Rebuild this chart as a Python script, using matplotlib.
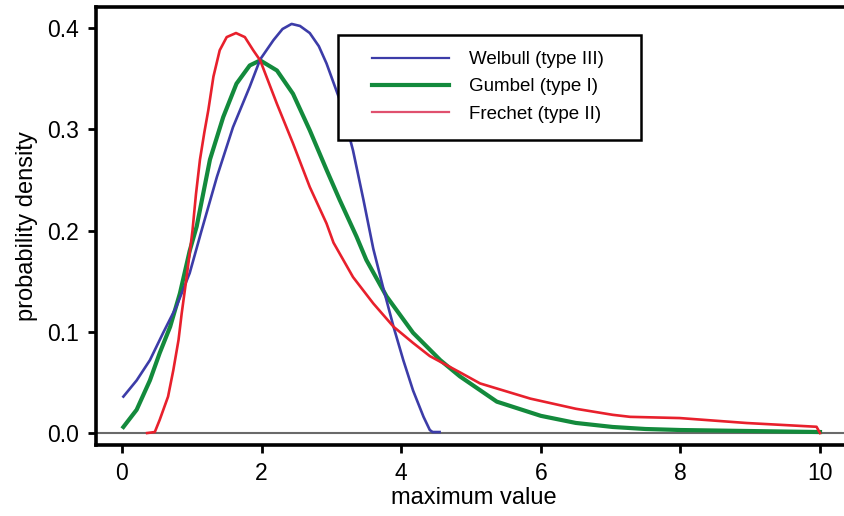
import matplotlib
matplotlib.use("Agg")
import matplotlib.pyplot as plt
from matplotlib.patches import Rectangle

plt.rcParams['font.family'] = ['Liberation Sans', 'DejaVu Sans']

# Weibull (type III)
weibull_x = [0.02, 0.21, 0.40, 0.59, 0.78, 0.97, 1.14, 1.36, 1.59, 1.83, 1.98, 2.17, 2.30,
             2.43, 2.55, 2.69, 2.82, 2.93, 3.12, 3.31, 3.46, 3.60, 3.74, 3.89, 4.03, 4.17,
             4.32, 4.41, 4.45, 4.55]
weibull_y = [0.036, 0.052, 0.072, 0.099, 0.125, 0.158, 0.200, 0.253, 0.302, 0.342, 0.369, 0.388,
             0.399, 0.404, 0.402, 0.395, 0.382, 0.365, 0.329, 0.279, 0.230, 0.182, 0.144, 0.105,
             0.072, 0.042, 0.016, 0.003, 0.001, 0.001]

# Gumbel (type I)
gumbel_x = [0.02, 0.21, 0.40, 0.54, 0.69, 0.83, 0.97, 1.07, 1.26, 1.45, 1.64, 1.83, 1.98,
            2.22, 2.45, 2.69, 2.93, 3.12, 3.36, 3.50, 3.79, 4.17, 4.56, 4.84, 5.37,
            6.00, 6.50, 7.03, 7.50, 8.00, 9.00, 10.00]
gumbel_y = [0.006, 0.023, 0.052, 0.079, 0.105, 0.138, 0.180, 0.204, 0.270, 0.312, 0.345, 0.363,
            0.368, 0.358, 0.335, 0.299, 0.260, 0.230, 0.194, 0.171, 0.135, 0.099, 0.072, 0.056,
            0.031, 0.017, 0.010, 0.006, 0.004, 0.003, 0.002, 0.001]

# Frechet (type II)
frechet_x = [0.36, 0.47, 0.54, 0.66, 0.735, 0.81, 0.855, 0.92, 0.974, 1.01, 1.06, 1.117, 1.18,
             1.237, 1.31, 1.40, 1.50, 1.633, 1.76, 1.88, 1.98, 2.22, 2.45, 2.69, 2.93, 3.03,
             3.31, 3.60, 3.89, 4.17, 4.41, 4.84, 5.13, 5.85, 6.50, 7.03, 7.28, 7.99, 8.95,
             9.95, 10.0]
frechet_y = [0.0, 0.001, 0.013, 0.036, 0.062, 0.092, 0.118, 0.151, 0.180, 0.200, 0.236, 0.270,
             0.297, 0.319, 0.352, 0.378, 0.391, 0.395, 0.391, 0.378, 0.368, 0.325, 0.286, 0.243,
             0.207, 0.188, 0.154, 0.128, 0.105, 0.089, 0.076, 0.060, 0.049, 0.034, 0.024, 0.018,
             0.016, 0.0148, 0.0099, 0.0062, 0.0]

x_ticks = [0, 2, 4, 6, 8, 10]
y_ticks = [0.0, 0.1, 0.2, 0.3, 0.4]
y_tick_labels = ["0.0", "0.1", "0.2", "0.3", "0.4"]

fig = plt.figure(figsize=(8.45, 5.16), dpi=100)
ax = fig.add_axes([0.1136, 0.1376, 0.8935, 0.8488])

ax.axhline(0, color='#6a6a6a', lw=1.5, zorder=1)
ax.plot(weibull_x, weibull_y, color='#3c3ca8', lw=1.9, label='Welbull (type III)', zorder=3)
ax.plot(gumbel_x, gumbel_y, color='#138a3c', lw=3.0, label='Gumbel (type I)', zorder=2)
ax.plot(frechet_x, frechet_y, color='#e8202c', lw=1.9, label='Frechet (type II)', zorder=4)

ax.set_xlim(-0.3725, 10.444)
ax.set_ylim(-0.0118, 0.4207)
ax.set_xticks(x_ticks)
ax.set_xticklabels([str(v) for v in x_ticks])
ax.set_yticks(y_ticks)
ax.set_yticklabels(y_tick_labels)
ax.tick_params(axis='both', direction='out', length=6, width=2, labelsize=16.5, pad=6, color='black')

for s in ['left', 'top', 'bottom']:
    ax.spines[s].set_linewidth(2.6)
ax.spines['right'].set_visible(False)

ax.set_xlabel('maximum value', fontsize=17, labelpad=2)
ax.set_ylabel('probability density', fontsize=17, labelpad=7)

ax.add_patch(Rectangle((0.3205, 0.6963), 0.4014, 0.2397, transform=ax.transAxes,
                       facecolor='white', edgecolor='black', lw=1.8, zorder=5))
handles, labels = ax.get_legend_handles_labels()
leg = ax.legend(handles, labels, loc='upper left', bbox_to_anchor=(0.3656, 0.8996),
                fontsize=13.5, frameon=False, borderpad=0, handlelength=4.1,
                handletextpad=1.07, labelspacing=0.54, borderaxespad=0)
leg.set_zorder(6)
leg.legend_handles[2].set_color('#e0506e')
leg.legend_handles[2].set_linewidth(1.6)
leg.legend_handles[0].set_linewidth(1.6)

fig.savefig('out.png', dpi=100)
